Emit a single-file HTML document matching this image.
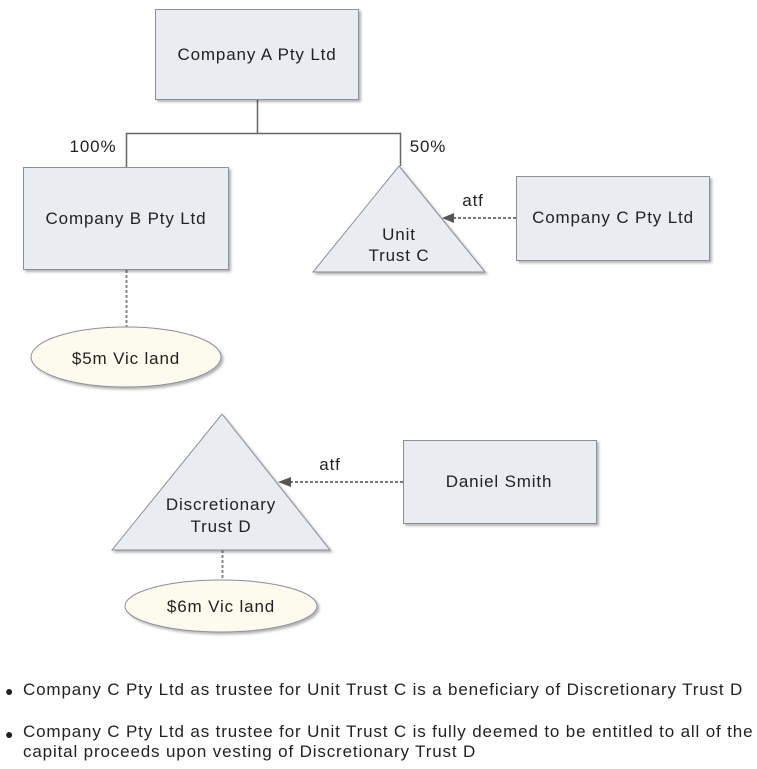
<!DOCTYPE html>
<html><head><style>
body{margin:0;background:#fff;width:757px;height:769px;overflow:hidden;font-family:"Liberation Sans",sans-serif;}
.b{position:absolute;font-size:17px;letter-spacing:0.85px;color:#222;white-space:nowrap;}
svg text{letter-spacing:0.85px;}
</style></head><body>
<svg width="757" height="640" style="position:absolute;left:0;top:0" font-family="Liberation Sans, sans-serif" font-size="17" fill="#222">
<defs>
<filter id="s" x="-10%" y="-10%" width="130%" height="130%"><feDropShadow dx="2" dy="2" stdDeviation="1.2" flood-color="#000" flood-opacity="0.3"/></filter>
</defs>
<g stroke="#666" fill="none">
<path d="M257.5 99V133.5H126.5V167M257.5 133.5H400.5V166" stroke-width="1.5"/>
<path d="M126.5 270V328M222.5 550V581" stroke-dasharray="3,2" stroke="#888" stroke-width="2"/>
<path d="M516 218H452M403 482H290" stroke-dasharray="3,2" stroke="#777" stroke-width="2"/>
</g>
<polygon points="442,218 454,213 454,223" fill="#555"/>
<polygon points="278,482 291,477 291,487" fill="#555"/>
<g fill="#e9ecf1" stroke="#8a8f98" filter="url(#s)">
<rect x="155.5" y="9.5" width="203" height="90"/>
<rect x="23.5" y="167.5" width="205" height="102"/>
<rect x="516.5" y="176.5" width="193" height="84"/>
<rect x="403.5" y="440.5" width="193" height="83"/>
<polygon points="399,166 485,272 313,272"/>
<polygon points="222,414 330,550 112,550"/>
</g>
<g fill="#fdfaee" stroke="#8a8f98" filter="url(#s)">
<ellipse cx="126" cy="357" rx="95" ry="30"/>
<ellipse cx="221" cy="606" rx="96" ry="26"/>
</g>
<g text-anchor="middle">
<text x="257" y="60">Company A Pty Ltd</text>
<text x="126" y="224">Company B Pty Ltd</text>
<text x="613" y="223">Company C Pty Ltd</text>
<text x="499" y="487">Daniel Smith</text>
<text x="399" y="240">Unit</text>
<text x="399" y="261">Trust C</text>
<text x="221" y="510">Discretionary</text>
<text x="221" y="532">Trust D</text>
<text x="126" y="364">$5m Vic land</text>
<text x="221" y="612">$6m Vic land</text>
<text x="93" y="152">100%</text>
<text x="428" y="152">50%</text>
<text x="473" y="206">atf</text>
<text x="330" y="470">atf</text>
</g>
</svg>
<span style="position:absolute;left:5px;top:683px;font-size:14px;color:#222">●</span>
<div class="b" style="left:23px;top:680px">Company C Pty Ltd as trustee for Unit Trust C is a beneficiary of Discretionary Trust D</div>
<span style="position:absolute;left:5px;top:726px;font-size:14px;color:#222">●</span>
<div class="b" style="left:23px;top:722px;line-height:20px">Company C Pty Ltd as trustee for Unit Trust C is fully deemed to be entitled to all of the<br>capital proceeds upon vesting of Discretionary Trust D</div>
</body></html>
